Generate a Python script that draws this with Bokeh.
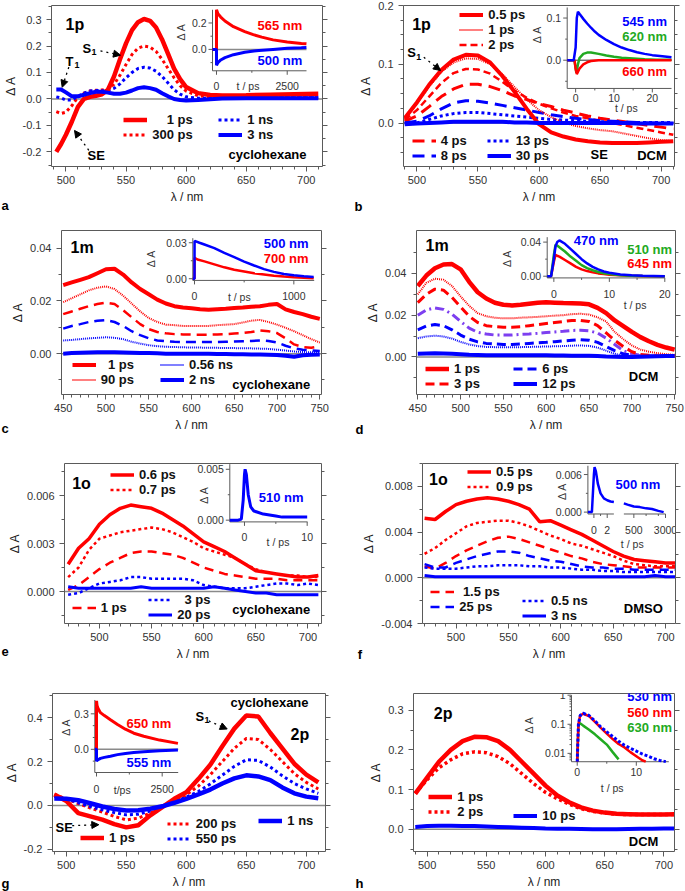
import math
from bokeh.plotting import figure
from bokeh.plotting.glyph_api import GlyphAPI
from bokeh.layouts import column, row
from bokeh.models import (Range1d, LinearAxis, FixedTicker, NumeralTickFormatter, Label, Arrow, Title,
                          NormalHead, Legend, LegendItem, Span, LogScale, LinearScale, CoordinateMapping,
                          CustomLabelingPolicy)
from bokeh.core.properties import value
from bokeh.embed import file_html
from bokeh.resources import INLINE

# ---------------- data: panel a (1p, cyclohexane) ----------------
WL_A = [492, 496, 500, 505, 510, 515, 520, 525, 530, 535, 540, 545, 550, 555, 560, 565, 570, 575,
        580, 585, 590, 595, 600, 610, 620, 630, 650, 670, 690, 710]
A_1PS = [-0.200, -0.170, -0.135, -0.085, -0.030, 0.000, 0.008, 0.012, 0.018, 0.035, 0.085, 0.150,
         0.210, 0.260, 0.290, 0.302, 0.295, 0.270, 0.225, 0.170, 0.115, 0.075, 0.045, 0.022, 0.015,
         0.013, 0.014, 0.016, 0.018, 0.020]
A_300PS = [-0.048, -0.055, -0.050, -0.025, 0.008, 0.022, 0.030, 0.033, 0.034, 0.038, 0.055, 0.090,
           0.130, 0.168, 0.192, 0.200, 0.196, 0.180, 0.150, 0.115, 0.080, 0.050, 0.030, 0.012, 0.008,
           0.007, 0.008, 0.009, 0.010, 0.010]
A_1NS = [0.008, 0.004, -0.004, -0.004, 0.010, 0.022, 0.030, 0.032, 0.031, 0.032, 0.040, 0.057, 0.080,
         0.100, 0.115, 0.120, 0.117, 0.105, 0.085, 0.060, 0.035, 0.018, 0.008, 0.003, 0.003, 0.004,
         0.005, 0.005, 0.005, 0.005]
A_3NS = [0.036, 0.036, 0.025, 0.010, 0.010, 0.016, 0.022, 0.027, 0.027, 0.024, 0.020, 0.020, 0.024,
         0.032, 0.041, 0.044, 0.041, 0.035, 0.022, 0.010, 0.000, -0.004, -0.006, -0.004, -0.001,
         0.002, 0.003, 0.003, 0.003, 0.003]
TA_R = [-141, 0, 1, 50, 150, 300, 600, 1000, 1300, 1600, 2000, 2500, 3000, 3180]
A_565 = [0, 0, 0.30, 0.27, 0.245, 0.215, 0.172, 0.135, 0.112, 0.093, 0.072, 0.056, 0.045, 0.042]
TA_B = [-141, 0, 1, 50, 150, 300, 600, 1000, 1500, 2000, 2500, 3000, 3180]
A_500 = [0, 0, -0.12, -0.10, -0.08, -0.062, -0.04, -0.022, -0.008, 0.0, 0.008, 0.013, 0.015]

# ---------------- panel b (1p, DCM) ----------------
WL_B = [490, 500, 510, 520, 530, 540, 550, 560, 570, 580, 590, 600, 610, 620, 630, 640, 650, 660,
        670, 680, 690, 700, 710]
B_05 = [0.008, 0.035, 0.065, 0.090, 0.108, 0.116, 0.115, 0.103, 0.080, 0.053, 0.024, -0.002, -0.016,
        -0.023, -0.028, -0.031, -0.033, -0.034, -0.034, -0.034, -0.033, -0.032, -0.031]
B_1 = [0.007, 0.033, 0.062, 0.087, 0.103, 0.110, 0.109, 0.100, 0.083, 0.061, 0.040, 0.022, 0.010,
       0.001, -0.005, -0.009, -0.012, -0.014, -0.018, -0.022, -0.026, -0.029, -0.031]
B_2 = [0.005, 0.022, 0.045, 0.068, 0.085, 0.092, 0.091, 0.084, 0.070, 0.055, 0.043, 0.033, 0.025,
       0.018, 0.012, 0.008, 0.004, 0.000, -0.004, -0.008, -0.012, -0.016, -0.020]
B_4 = [0.003, 0.012, 0.028, 0.045, 0.058, 0.066, 0.066, 0.062, 0.055, 0.046, 0.040, 0.033, 0.028,
       0.022, 0.017, 0.012, 0.008, 0.005, 0.002, -0.001, -0.004, -0.007, -0.010]
B_8 = [0.000, 0.003, 0.012, 0.024, 0.034, 0.038, 0.037, 0.034, 0.030, 0.026, 0.022, 0.018, 0.014,
       0.011, 0.008, 0.006, 0.004, 0.003, 0.002, 0.001, 0.000, 0.000, -0.001]
B_13 = [0.000, 0.000, 0.006, 0.012, 0.016, 0.018, 0.018, 0.016, 0.014, 0.012, 0.010, 0.008, 0.006,
        0.005, 0.004, 0.003, 0.002, 0.002, 0.001, 0.001, 0.001, 0.001, 0.001]
B_30 = [-0.002, -0.001, 0.000, 0.001, 0.002, 0.002, 0.002, 0.002, 0.002, 0.001, 0.001, 0.000, 0.000,
        0.000, 0.000, 0.000, 0.000, 0.000, 0.000, -0.001, -0.001, -0.001, -0.001]
TB_1 = [-2.2, -0.5, 0.0, 0.3, 0.6, 1, 2, 3, 4, 5, 6, 8, 10, 12, 14, 16, 18, 20, 22, 25]
B_545 = [0, 0, 0.03, 0.10, 0.115, 0.11, 0.098, 0.087, 0.077, 0.068, 0.06, 0.048, 0.038, 0.03, 0.024,
         0.019, 0.015, 0.012, 0.01, 0.007]
TB_2 = [-2.2, -0.3, 0.0, 0.2, 0.6, 1, 2, 3, 4, 6, 8, 10, 12, 15, 18, 21, 25]
B_620 = [0, 0, -0.02, -0.03, -0.01, 0.005, 0.015, 0.018, 0.018, 0.015, 0.011, 0.008, 0.006, 0.004,
         0.002, 0.001, 0.001]
TB_3 = [-2.2, -0.3, 0.0, 0.3, 1, 2, 3, 4, 6, 10, 15, 20, 25]
B_660 = [0, 0, -0.02, -0.033, -0.02, -0.01, -0.005, -0.002, 0.0, 0.0, 0.0, 0.0, 0.0]

# ---------------- panel c (1m, cyclohexane) ----------------
WL_C = list(range(450, 751, 10))
C_1PS = [0.026, 0.027, 0.028, 0.029, 0.0305, 0.032, 0.0322, 0.030, 0.027, 0.0245, 0.0225, 0.0205,
         0.019, 0.018, 0.0175, 0.0172, 0.0168, 0.0166, 0.0168, 0.017, 0.0173, 0.0175, 0.0178, 0.018,
         0.0185, 0.0188, 0.0168, 0.0158, 0.015, 0.014, 0.0132]
C_90PS = [0.0195, 0.021, 0.0225, 0.024, 0.025, 0.0255, 0.0245, 0.022, 0.019, 0.016, 0.0135, 0.012,
          0.011, 0.0108, 0.0105, 0.0105, 0.0105, 0.0105, 0.0108, 0.011, 0.0112, 0.0118, 0.0125,
          0.0128, 0.012, 0.011, 0.0098, 0.0085, 0.007, 0.0055, 0.0042]
C_RD = [0.015, 0.016, 0.017, 0.018, 0.0188, 0.0193, 0.0188, 0.0165, 0.0138, 0.0112, 0.0093, 0.0082,
        0.0077, 0.0074, 0.0073, 0.0072, 0.0072, 0.0072, 0.0073, 0.0074, 0.0076, 0.0078, 0.0082,
        0.0088, 0.0085, 0.0078, 0.0058, 0.0035, 0.0025, 0.0022, 0.0028]
C_BD = [0.0095, 0.0105, 0.0112, 0.012, 0.0125, 0.0127, 0.012, 0.0105, 0.0085, 0.007, 0.0058, 0.005,
        0.0047, 0.0045, 0.0044, 0.0044, 0.0044, 0.0044, 0.0044, 0.0045, 0.0046, 0.0047, 0.0048,
        0.005, 0.0048, 0.0042, 0.003, 0.002, 0.0015, 0.0012, 0.001]
C_056NS = [0.005, 0.0052, 0.0055, 0.0058, 0.006, 0.0062, 0.006, 0.0055, 0.0045, 0.0038, 0.0032,
           0.0028, 0.0026, 0.0025, 0.0024, 0.0023, 0.0023, 0.0022, 0.0022, 0.0021, 0.0021, 0.002,
           0.002, 0.0019, 0.0018, 0.0015, 0.0012, 0.0008, 0.0006, 0.0005, 0.0005]
C_2NS = [0.0, 0.0002, 0.0003, 0.0004, 0.0005, 0.0005, 0.0005, 0.0004, 0.0003, 0.0002, 0.0002, 0.0001,
         0.0, 0.0, 0.0, 0.0, 0.0, 0.0, -0.0001, -0.0001, -0.0002, -0.0002, -0.0003, -0.0003, -0.0004,
         -0.0005, -0.0008, -0.0012, -0.0006, -0.0004, -0.0003]
TC_B = [-17, 0, 1, 50, 100, 200, 300, 400, 500, 600, 700, 800, 900, 1000, 1100, 1200]
C_500 = [0, 0, 0.0315, 0.030, 0.0285, 0.0255, 0.0215, 0.018, 0.0143, 0.011, 0.008, 0.0057, 0.004,
         0.0029, 0.002, 0.0015]
TC_R = [-17, 0, 1, 30, 100, 200, 300, 400, 500, 600, 700, 800, 900, 1000, 1100, 1200]
C_700 = [0, 0, 0.0175, 0.016, 0.0145, 0.012, 0.0095, 0.0075, 0.006, 0.0045, 0.0035, 0.0025, 0.0018,
         0.0012, 0.0008, 0.0005]

# ---------------- panel d (1m, DCM) ----------------
WL_D = list(range(450, 751, 10))
D_1PS = [0.034, 0.039, 0.0425, 0.0443, 0.0445, 0.042, 0.036, 0.031, 0.028, 0.026, 0.025, 0.0247,
         0.025, 0.0255, 0.026, 0.0262, 0.026, 0.0258, 0.0257, 0.0256, 0.0252, 0.0235, 0.021, 0.0175,
         0.0148, 0.012, 0.0095, 0.0075, 0.0058, 0.0045, 0.0035]
D_RDOT = [0.030, 0.0355, 0.0375, 0.037, 0.034, 0.029, 0.0245, 0.021, 0.0195, 0.0188, 0.0185, 0.0185,
          0.0188, 0.019, 0.0192, 0.0195, 0.0198, 0.020, 0.0205, 0.0207, 0.0203, 0.019, 0.017, 0.012,
          0.0085, 0.0055, 0.0035, 0.0025, 0.0018, 0.0013, 0.001]
D_3PS = [0.026, 0.030, 0.0325, 0.032, 0.0285, 0.024, 0.0195, 0.0165, 0.015, 0.0145, 0.0142, 0.0142,
         0.0145, 0.015, 0.0155, 0.016, 0.0165, 0.017, 0.0175, 0.0175, 0.017, 0.015, 0.0115, 0.008,
         0.005, 0.0025, 0.0012, 0.0008, 0.0005, 0.0005, 0.0005]
D_PDD = [0.020, 0.0225, 0.0235, 0.0228, 0.0205, 0.017, 0.0138, 0.0118, 0.011, 0.0105, 0.0105,
         0.0105, 0.0108, 0.011, 0.0113, 0.0117, 0.012, 0.0123, 0.0127, 0.0128, 0.0125, 0.0115, 0.009,
         0.006, 0.003, 0.0015, 0.0008, 0.0005, 0.0005, 0.0004, 0.0004]
D_6PS = [0.013, 0.0148, 0.0155, 0.015, 0.013, 0.0105, 0.0085, 0.0072, 0.0065, 0.0062, 0.006, 0.006,
         0.0062, 0.0065, 0.0068, 0.007, 0.0073, 0.0077, 0.008, 0.0083, 0.008, 0.007, 0.005, 0.003,
         0.0015, 0.0008, 0.0005, 0.0004, 0.0003, 0.0003, 0.0003]
D_BDOT = [0.009, 0.0098, 0.0102, 0.0098, 0.0088, 0.0072, 0.006, 0.0052, 0.0048, 0.0047, 0.0046,
          0.0046, 0.0047, 0.0048, 0.0049, 0.005, 0.0051, 0.0052, 0.0054, 0.0055, 0.0053, 0.0045,
          0.003, 0.0015, 0.0005, 0.0, 0.0, 0.0, 0.0, 0.0, 0.0]
D_12PS = [0.0015, 0.0017, 0.0018, 0.0017, 0.0015, 0.0013, 0.001, 0.0009, 0.0008, 0.0008, 0.0008,
          0.0008, 0.0008, 0.0008, 0.0008, 0.0008, 0.0007, 0.0007, 0.0006, 0.0006, 0.0006, 0.0004,
          0.0002, 0.0001, 0.0, 0.0, 0.0001, 0.0002, 0.0003, 0.0004, 0.0005]
TD = [-1.2, -0.5, 0.0, 0.3, 0.6, 1.0, 2, 3, 4, 5, 6, 7, 8, 9, 10, 12, 14, 16, 20]
D_470 = [0, 0, 0.02, 0.035, 0.04, 0.042, 0.038, 0.032, 0.026, 0.02, 0.015, 0.011, 0.008, 0.0055,
         0.004, 0.002, 0.001, 0.0005, 0.0]
D_510 = [0, 0, 0.025, 0.037, 0.036, 0.034, 0.029, 0.023, 0.018, 0.013, 0.0095, 0.007, 0.005, 0.0035,
         0.0025, 0.0012, 0.0006, 0.0003, 0.0]
D_645 = [0, 0, 0.017, 0.025, 0.024, 0.023, 0.019, 0.015, 0.011, 0.008, 0.006, 0.0045, 0.0033,
         0.0025, 0.0018, 0.001, 0.0005, 0.0002, 0.0]

# ---------------- panel e (1o, cyclohexane) ----------------
WL_E = list(range(470, 711, 10))
E_06 = [0.0017, 0.0027, 0.0033, 0.0042, 0.0048, 0.0052, 0.0054, 0.0053, 0.0052, 0.0049, 0.0045,
        0.0041, 0.0036, 0.0031, 0.0028, 0.0025, 0.0021, 0.0017, 0.0013, 0.0012, 0.0011, 0.001,
        0.0009, 0.0009, 0.001]
E_07 = [0.0009, 0.0015, 0.0026, 0.0033, 0.0035, 0.0037, 0.0038, 0.0039, 0.004, 0.0039, 0.0037,
        0.0034, 0.0031, 0.0027, 0.0025, 0.0023, 0.0021, 0.0017, 0.0014, 0.0012, 0.0011, 0.001, 0.001,
        0.0009, 0.0009]
E_1 = [0.0001, 0.0004, 0.0009, 0.0014, 0.0018, 0.0021, 0.0024, 0.0025, 0.0025, 0.0024, 0.0023,
       0.0021, 0.0018, 0.0015, 0.0013, 0.0011, 0.001, 0.0009, 0.0008, 0.0008, 0.0008, 0.0007, 0.0007,
       0.0007, 0.0007]
E_3 = [-0.0002, -0.0001, 0.0002, 0.0005, 0.0006, 0.0007, 0.0009, 0.0009, 0.0008, 0.0008, 0.0008,
       0.0008, 0.0007, 0.0004, 0.0003, 0.0002, 0.0002, 0.0002, 0.0003, 0.0004, 0.0005, 0.0005,
       0.0004, 0.0005, 0.0004]
E_20 = [0.0003, 0.0002, 0.0002, 0.0002, 0.0002, 0.0002, 0.0002, 0.0003, 0.0002, 0.0002, 0.0002,
        0.0002, 0.0002, 0.0002, 0.0003, 0.0002, 0.0001, 0.0, -0.0001, -0.0001, -0.0002, -0.0002,
        -0.0002, -0.0002, -0.0002]
TE = [-2.34, -1.0, -0.5, -0.2, 0.0, 0.1, 0.3, 0.6, 1.0, 1.5, 2, 3, 4, 5, 6, 8, 10]
E_510 = [0.0, 0.0, 0.0001, 0.002, 0.0045, 0.005, 0.0045, 0.0025, 0.0013, 0.0009, 0.0008, 0.0006,
         0.0005, 0.0004, 0.0003, 0.0003, 0.0003]

# ---------------- panel f (1o, DMSO) ----------------
WL_F = list(range(470, 711, 10))
F_05 = [0.0052, 0.0051, 0.0058, 0.0064, 0.0067, 0.0069, 0.007, 0.0069, 0.0067, 0.0064, 0.006, 0.0049,
        0.005, 0.0046, 0.0042, 0.0038, 0.0033, 0.0028, 0.0023, 0.0019, 0.0016, 0.0015, 0.0014,
        0.0013, 0.0013]
F_09 = [0.0021, 0.0026, 0.0033, 0.0039, 0.0045, 0.0048, 0.0049, 0.005, 0.005, 0.0048, 0.0045,
        0.0041, 0.0037, 0.0034, 0.003, 0.0028, 0.0025, 0.0022, 0.0019, 0.0015, 0.0012, 0.0011, 0.001,
        0.001, 0.001]
F_15 = [0.001, 0.0008, 0.0013, 0.0019, 0.0024, 0.0028, 0.0032, 0.0035, 0.0036, 0.0034, 0.0031,
        0.0028, 0.0025, 0.0022, 0.0019, 0.0017, 0.0014, 0.0012, 0.0011, 0.001, 0.0009, 0.0009,
        0.0009, 0.0009, 0.0009]
F_25 = [0.0012, 0.0009, 0.0009, 0.0013, 0.0016, 0.0019, 0.0021, 0.0023, 0.0023, 0.0022, 0.0019,
        0.0017, 0.0015, 0.0014, 0.0012, 0.001, 0.0009, 0.0009, 0.0008, 0.0008, 0.0007, 0.0007,
        0.0007, 0.0007, 0.0007]
F_05NS = [0.0009, 0.0008, 0.0008, 0.0008, 0.0009, 0.001, 0.001, 0.0011, 0.0011, 0.0011, 0.001, 0.001,
          0.0009, 0.0009, 0.0008, 0.0007, 0.0007, 0.0006, 0.0006, 0.0005, 0.0005, 0.0005, 0.0005,
          0.0005, 0.0005]
F_3NS = [0.0002, 0.0001, 0.0001, 0.0001, 0.0001, 0.0001, 0.0001, 0.0001, 0.0001, 0.0001, 0.0001,
         0.0001, 0.0001, 0.0001, 0.0001, 0.0001, 0.0001, 0.0001, 0.0001, 0.0001, 0.0001, 0.0001,
         0.0002, 0.0001, 0.0001]
TF_1 = [-0.9, -0.3, 0.0, 0.1, 0.3, 0.6, 1.0, 1.5, 2.0, 2.5, 3.0]
F_500A = [0.0, 0.0, 0.006, 0.0072, 0.0065, 0.0045, 0.003, 0.0022, 0.0019, 0.0017, 0.0016]
TF_2 = [284, 350, 500, 700, 1000, 1400, 2000, 2700]
F_500B = [0.0014, 0.0012, 0.0009, 0.0008, 0.0006, 0.0005, 0.0002, 0.0]

# ---------------- panel g (2p, cyclohexane) ----------------
WL_G = list(range(490, 711, 10))
G_1PS = [0.05, 0.02, -0.035, -0.05, -0.065, -0.085, -0.1, -0.09, -0.045, -0.008, 0.03, 0.06, 0.12,
         0.185, 0.27, 0.35, 0.41, 0.405, 0.33, 0.26, 0.19, 0.14, 0.105]
G_200PS = [0.05, 0.03, 0.008, -0.012, -0.03, -0.05, -0.066, -0.058, -0.035, -0.008, 0.02, 0.048,
           0.088, 0.14, 0.2, 0.26, 0.305, 0.3, 0.255, 0.2, 0.145, 0.105, 0.075]
G_550PS = [0.04, 0.03, 0.012, -0.005, -0.02, -0.033, -0.043, -0.04, -0.026, -0.006, 0.016, 0.038,
           0.063, 0.098, 0.138, 0.178, 0.208, 0.205, 0.175, 0.135, 0.1, 0.075, 0.055]
G_1NS = [0.032, 0.03, 0.024, 0.01, -0.005, -0.016, -0.023, -0.022, -0.015, -0.004, 0.012, 0.03, 0.05,
         0.072, 0.1, 0.123, 0.137, 0.132, 0.115, 0.082, 0.055, 0.04, 0.033]
TG_R = [-65, 0, 1, 20, 60, 150, 300, 530, 800, 1100, 1420, 1800, 2400, 3100]
G_650 = [0, 0, 0.41, 0.37, 0.345, 0.31, 0.285, 0.25, 0.21, 0.17, 0.136, 0.11, 0.078, 0.05]
TG_B = [-65, 0, 1, 40, 150, 300, 530, 800, 1100, 1420, 1800, 2400, 3100]
G_555 = [0, 0, -0.1, -0.09, -0.077, -0.068, -0.058, -0.045, -0.035, -0.027, -0.02, -0.012, -0.005]

# ---------------- panel h (2p, DCM) ----------------
WL_H = list(range(490, 711, 10))
H_1PS = [0.09, 0.13, 0.17, 0.2, 0.222, 0.233, 0.232, 0.222, 0.2, 0.17, 0.14, 0.11, 0.085, 0.068,
         0.055, 0.047, 0.042, 0.039, 0.038, 0.037, 0.037, 0.037, 0.038]
H_2PS = [0.09, 0.125, 0.155, 0.175, 0.19, 0.195, 0.193, 0.183, 0.165, 0.14, 0.115, 0.093, 0.077,
         0.063, 0.052, 0.045, 0.041, 0.038, 0.037, 0.037, 0.037, 0.037, 0.037]
H_10PS = [0.006, 0.008, 0.009, 0.009, 0.008, 0.008, 0.007, 0.006, 0.005, 0.004, 0.003, 0.002, 0.0015,
          0.001, 0.0005, 0.0, 0.0, 0.0, 0.0005, 0.001, 0.0015, 0.002, 0.002]
TH_B = [0, 0.2, 0.5, 1, 2, 3, 4, 5, 6, 7, 8, 9, 10, 11, 12, 13, 14, 15]
H_530 = [0.0052, 0.1, 0.2, 0.24, 0.2, 0.13, 0.08, 0.055, 0.038, 0.026, 0.019, 0.015, 0.012, 0.0095,
         0.008, 0.0065, 0.0057, 0.0052]
TH_R = [0, 0.2, 0.5, 1, 2, 3, 4, 5, 6, 7, 8, 9, 10, 11, 11.6]
H_560 = [0.0052, 0.1, 0.2, 0.23, 0.19, 0.12, 0.075, 0.048, 0.031, 0.021, 0.016, 0.011, 0.008, 0.0058,
         0.0052]
TH_G = [0, 0.2, 0.4, 1, 2, 3, 4, 5, 6, 7]
H_630 = [0.0052, 0.09, 0.11, 0.09, 0.065, 0.045, 0.03, 0.02, 0.011, 0.0062]

# ---------------- styling ----------------
FONT = "Liberation Sans"
RED = "#ff0000"
BLUE = "#0000ff"
GREEN = "#22aa22"
PURPLE = "#7d3ff0"
AX = "#5a5a5a"
ZERO = "#8a8a8a"
TXT = "#222222"
FS = "\u2007"  # figure space (digit width) used to right-align legend labels
XT = [450, 500, 550, 600, 650, 700, 750]
XM = [v for v in range(440, 770, 10) if v % 50]
NO_LABELS = "for (const i of indices) { indices.unset(i) }\nreturn indices"


def style_axis(ax, ticks, minor, fmt=None, show=True, horizontal=True, ticks_on=True):
    ax.ticker = FixedTicker(ticks=ticks, minor_ticks=minor)
    if fmt:
        ax.formatter = NumeralTickFormatter(format=fmt)
    ax.axis_line_color = AX
    ax.major_tick_line_color = AX
    ax.minor_tick_line_color = AX
    ax.major_tick_in = 0
    ax.major_tick_out = 5 if ticks_on else 0
    ax.minor_tick_in = 0
    ax.minor_tick_out = 3 if ticks_on else 0
    if not ticks_on:
        ax.major_tick_line_color = None
        ax.minor_tick_line_color = None
    ax.major_label_text_font = FONT
    ax.major_label_text_font_size = "11px"
    ax.major_label_text_color = "#333333"
    ax.major_label_standoff = 4 if horizontal else 5
    ax.axis_label_text_font = FONT
    ax.axis_label_text_font_size = "12px"
    ax.axis_label_text_font_style = "normal"
    ax.axis_label_text_color = TXT
    ax.axis_label_standoff = 3 if horizontal else 2
    if not show:
        ax.major_label_policy = CustomLabelingPolicy(code=NO_LABELS)
        ax.major_label_text_font_size = "0px"
        ax.major_label_standoff = 0


class Panel:
    def __init__(self, ref, xr, yr, geom, yt, ym, yfmt):
        self.L, self.T, self.R, self.B = ref
        self.xr, self.yr = xr, yr
        w, h, bl, br, bt, bb = geom
        self.fw = w - bl - br
        self.fh = h - bt - bb
        p = figure(width=w, height=h, x_range=Range1d(*xr), y_range=Range1d(*yr),
                   output_backend="svg", toolbar_location=None,
                   min_border_left=bl, min_border_right=br, min_border_top=bt, min_border_bottom=bb,
                   x_axis_label="λ / nm", y_axis_label="Δ A")
        p.outline_line_color = None
        p.grid.visible = False
        p.add_layout(LinearAxis(), "right")
        p.add_layout(LinearAxis(), "above")
        style_axis(p.below[0], XT, XM)
        style_axis(p.above[0], XT, XM, show=False, ticks_on=False)
        style_axis(p.left[0], yt, ym, yfmt, horizontal=False)
        style_axis(p.right[0], yt, ym, yfmt, show=False, horizontal=False)
        p.add_layout(Span(location=0, dimension="width", line_color=ZERO, line_width=1.5,
                          level="underlay"))
        self.p = p

    def X(self, px):
        return self.xr[0] + (px - self.L) / (self.R - self.L) * (self.xr[1] - self.xr[0])

    def Y(self, py):
        return self.yr[1] - (py - self.T) / (self.B - self.T) * (self.yr[1] - self.yr[0])

    def lx(self, px):
        return (px - self.L) / (self.R - self.L) * self.fw

    def ly(self, py):
        return (self.B - py) / (self.B - self.T) * self.fh


def line(pn, x, y, color, width, dash="solid"):
    return pn.p.line(x, y, line_color=color, line_width=width, line_dash=dash)


def text(pn, px, py, s, size="13px", color="black", bold=True, align="left", angle=0.0):
    pn.p.add_layout(Label(x=pn.X(px), y=pn.Y(py), text=s, text_font=FONT, text_font_size=size,
                          text_font_style="bold" if bold else "normal", text_color=color,
                          text_align=align, text_baseline="middle", angle=angle))


def letter(pn, px, py, s):
    # panel letter drawn as a title below the x axis, pulled up next to the axis label
    standoff = int(round(2 * ((py - pn.B) - 46)))
    pn.p.add_layout(Title(text=s, align="left", vertical_align="top", offset=px - pn.L,
                          standoff=standoff, text_font=FONT, text_font_size="13px",
                          text_font_style="bold", text_color="black"), "below")


def subs(pn, px, py, main, sub):
    text(pn, px, py, main, "13px")
    text(pn, px + 9, py + 4, sub, "9px")


def arrow(pn, p0, p1):
    pn.p.add_layout(Arrow(end=NormalHead(size=7, fill_color="black", line_color="black", line_width=1),
                          x_start=pn.X(p0[0]), y_start=pn.Y(p0[1]),
                          x_end=pn.X(p1[0]), y_end=pn.Y(p1[1]),
                          line_color="black", line_width=1.3, line_dash="dotted"))


def legend(pn, items, px, py):
    n = len(items)
    lg = Legend(items=[LegendItem(label=t, renderers=[r]) for t, r in items],
                location=(pn.lx(px), pn.ly(py + (n - 1) * 15) - 7.5),
                label_text_font=FONT, label_text_font_size="13px", label_text_font_style="bold",
                label_text_color="#111111", label_height=13, glyph_height=13, glyph_width=24,
                label_standoff=5, spacing=0, padding=0, margin=0,
                background_fill_alpha=0, border_line_alpha=0)
    pn.p.add_layout(lg)


def inset(pn, xs, ys, pxr, pyr, xscale=None, yscale=None):
    cm = CoordinateMapping(
        x_source=Range1d(*xs), y_source=Range1d(*ys),
        x_scale=xscale if xscale is not None else LinearScale(),
        y_scale=yscale if yscale is not None else LinearScale(),
        x_target=Range1d(pn.X(pxr[0]), pn.X(pxr[1])),
        y_target=Range1d(pn.Y(pyr[0]), pn.Y(pyr[1])))
    return GlyphAPI(pn.p, cm)


def inset_axes(sub, xs, ys, xt, xl, xm, yt=None, yl=None, ym=(), xoff=12, yaxis=True):
    x0, x1 = xs
    y0, y1 = ys
    kw = dict(line_color=AX, line_width=1)
    tk = dict(text_font=value(FONT), text_font_size=value("10.5px"), text_color="#333333")
    sub.segment(x0=[x0], y0=[y0], x1=[x1], y1=[y0], **kw)
    sub.ray(x=xt, y=[y0] * len(xt), length=4, length_units="screen", angle=-math.pi / 2, **kw)
    if xm:
        sub.ray(x=list(xm), y=[y0] * len(xm), length=2, length_units="screen", angle=-math.pi / 2, **kw)
    sub.text(x=xt, y=[y0] * len(xt), text=xl, y_offset=xoff, text_align="center",
             text_baseline="middle", **tk)
    if yaxis:
        sub.segment(x0=[x0], y0=[y0], x1=[x0], y1=[y1], **kw)
        sub.ray(x=[x0] * len(yt), y=yt, length=4, length_units="screen", angle=math.pi, **kw)
        if ym:
            sub.ray(x=[x0] * len(ym), y=list(ym), length=2, length_units="screen", angle=math.pi, **kw)
        sub.text(x=[x0] * len(yt), y=yt, text=yl, x_offset=-6, text_align="right",
                 text_baseline="middle", **tk)


def small(pn, px, py, s, angle=0.0):
    text(pn, px, py, s, "10.5px", "#333333", bold=False, align="center", angle=angle)


# ================= panel a =================
pa = Panel((51, 5, 322, 167), (488, 713.5), (-0.255, 0.353), (340, 225, 51, 18, 5, 58),
           [-0.2, -0.1, 0.0, 0.1, 0.2, 0.3], [-0.25, -0.15, -0.05, 0.05, 0.15, 0.25, 0.35], "0.0")
ra2 = line(pa, WL_A, A_300PS, RED, 3, "3 3")
ra3 = line(pa, WL_A, A_1NS, BLUE, 3, "3 3")
ra1 = line(pa, WL_A, A_1PS, RED, 4.5)
ra4 = line(pa, WL_A, A_3NS, BLUE, 4)
legend(pa, [(FS + FS + "1 ps", ra1), ("300 ps", ra2)], 123.3, 120.7)
legend(pa, [("1 ns", ra3), ("3 ns", ra4)], 218.3, 120.7)
text(pa, 65, 24, "1p", "16px")
text(pa, 228, 155, "cyclohexane")
subs(pa, 82, 48, "S", "1")
arrow(pa, (100, 50.7), (120, 55))
subs(pa, 65, 61, "T", "1")
arrow(pa, (68.3, 67), (61.7, 87.3))
text(pa, 87, 156, "SE")
arrow(pa, (88.3, 150.7), (74, 130.7))
letter(pa, 1, 204, "a")
sa = inset(pa, (-141, 3182), (-0.162, 0.30), (212, 306), (70.7, 9.3))
sa.segment(x0=[-141], y0=[0], x1=[3182], y1=[0], line_color=ZERO, line_width=1.5)
inset_axes(sa, (-141, 3182), (-0.162, 0.30), [0, 2500], ["0", "2500"], [1250],
           [0.0, 0.2], ["0.0", "0.2"], [-0.1, 0.1], xoff=15)
sa.line(TA_R, A_565, line_color=RED, line_width=3)
sa.line(TA_B, A_500, line_color=BLUE, line_width=3)
text(pa, 257, 25, "565 nm", color=RED)
text(pa, 257, 60, "500 nm", color=BLUE)
small(pa, 247.5, 86, "t / ps")
small(pa, 180, 31.7, "Δ A", angle=math.pi / 2)

# ================= panel b =================
pb = Panel((403, 4, 674, 165.7), (489, 711), (-0.074, 0.2), (345, 225, 63, 11, 5, 59),
           [0.0, 0.1, 0.2], [-0.075, -0.05, -0.025, 0.025, 0.05, 0.075, 0.125, 0.15, 0.175], "0.0")
rb4 = line(pb, WL_B, B_4, RED, 3, "12 7")
rb2 = line(pb, WL_B, B_2, RED, 2.5, "7 4")
rb8 = line(pb, WL_B, B_8, BLUE, 3, "12 7")
rb13 = line(pb, WL_B, B_13, BLUE, 3, "3 3")
rb1 = line(pb, WL_B, B_1, RED, 2, "1 1")
rb05 = line(pb, WL_B, B_05, RED, 4)
rb30 = line(pb, WL_B, B_30, BLUE, 4)
legend(pb, [("0.5 ps", rb05), ("1 ps", rb1), ("2 ps", rb2)], 459.3, 13.3)
legend(pb, [("4 ps", rb4), ("8 ps", rb8)], 411.7, 140)
legend(pb, [("13 ps", rb13), ("30 ps", rb30)], 486.7, 140)
text(pb, 411.7, 23.3, "1p", "16px")
subs(pb, 406.7, 51.7, "S", "1")
arrow(pb, (423.3, 56), (440, 69.3))
text(pb, 590, 154, "SE")
text(pb, 636.7, 155, "DCM")
letter(pb, 354, 204, "b")
sb = inset(pb, (-2.2, 25.0), (-0.067, 0.125), (566.7, 671), (87.3, 6))
sb.segment(x0=[-2.2], y0=[0], x1=[25], y1=[0], line_color="#333333", line_width=1)
inset_axes(sb, (-2.2, 25.0), (-0.067, 0.125), [0, 10, 20], ["0", "10", "20"], [5, 15],
           [0.0, 0.1], ["0.0", "0.1"], [-0.05, 0.05], xoff=10)
sb.line(TB_2, B_620, line_color=GREEN, line_width=2.5)
sb.line(TB_3, B_660, line_color=RED, line_width=2.5)
sb.line(TB_1, B_545, line_color=BLUE, line_width=2.5)
text(pb, 621.7, 20, "545 nm", color=BLUE)
text(pb, 621.7, 35, "620 nm", color=GREEN)
text(pb, 621.7, 70, "660 nm", color=RED)
small(pb, 625.8, 107.3, "t / ps")
small(pb, 536.7, 33.3, "Δ A", angle=math.pi / 2)

# ================= panel c =================
pc = Panel((61, 230, 321, 394.3), (448, 752), (-0.0155, 0.0467), (340, 223, 61, 19, 5, 54),
           [0.0, 0.02, 0.04], [-0.01, 0.01, 0.03], "0.00")
rc3 = line(pc, WL_C, C_RD, RED, 2.5, "10 6")
rc4 = line(pc, WL_C, C_BD, BLUE, 2.5, "10 6")
rc2 = line(pc, WL_C, C_90PS, RED, 2, "1 1")
rc5 = line(pc, WL_C, C_056NS, BLUE, 2, "1 1")
rc1 = line(pc, WL_C, C_1PS, RED, 4)
rc6 = line(pc, WL_C, C_2NS, BLUE, 4)
legend(pc, [(FS + "1 ps", rc1), ("90 ps", rc2)], 71.7, 365)
legend(pc, [("0.56 ns", rc5), ("2 ns", rc6)], 160, 365)
text(pc, 70, 246.7, "1m", "16px")
text(pc, 231.7, 384.3, "cyclohexane")
letter(pc, 1, 427, "c")
sc = inset(pc, (-17, 1205), (-0.0014, 0.0338), (192.3, 313.7), (280, 237.7))
inset_axes(sc, (-17, 1205), (-0.0014, 0.0338), [0, 1000], ["0", "1000"], [500],
           [0.0, 0.03], ["0.00", "0.03"], [0.015], xoff=16)
sc.line(TC_R, C_700, line_color=RED, line_width=2.5)
sc.line(TC_B, C_500, line_color=BLUE, line_width=2.5)
text(pc, 263.3, 243.3, "500 nm", color=BLUE)
text(pc, 263.3, 258.3, "700 nm", color=RED)
small(pc, 241.7, 296.7, "t  /  ps")
small(pc, 150, 258.3, "Δ A", angle=math.pi / 2)

# ================= panel d =================
pd = Panel((416, 230, 675, 395), (448.5, 751), (-0.018, 0.0606), (345, 223, 76, 10, 5, 53),
           [0.0, 0.02, 0.04], [-0.01, 0.01, 0.03, 0.05], "0.00")
rd7 = line(pd, WL_D, D_BDOT, BLUE, 2, "1 1")
rd5 = line(pd, WL_D, D_6PS, BLUE, 3, "9 5")
rd4 = line(pd, WL_D, D_PDD, PURPLE, 3, "9 4 2 4")
rd3 = line(pd, WL_D, D_3PS, RED, 3, "9 5")
rd2 = line(pd, WL_D, D_RDOT, RED, 2, "1 1")
rd1 = line(pd, WL_D, D_1PS, RED, 4.5)
rd6 = line(pd, WL_D, D_12PS, BLUE, 4)
legend(pd, [("1 ps", rd1), ("3 ps", rd3)], 425, 369)
legend(pd, [("6 ps", rd5), ("12 ps", rd6)], 513.3, 369)
text(pd, 425, 245, "1m", "16px")
text(pd, 628.3, 376.7, "DCM")
letter(pd, 355, 428, "d")
sd = inset(pd, (-1.2, 20.0), (-0.002, 0.0458), (546.7, 664.3), (277.7, 236.7))
inset_axes(sd, (-1.2, 20.0), (-0.002, 0.0458), [0, 10, 20], ["0", "10", "20"], [5, 15],
           [0.0, 0.04], ["0.00", "0.04"], [0.02], xoff=16)
sd.line(TD, D_645, line_color=RED, line_width=2.5)
sd.line(TD, D_510, line_color=GREEN, line_width=2.5)
sd.line(TD, D_470, line_color=BLUE, line_width=2.5)
text(pd, 573.3, 240, "470 nm", color=BLUE)
text(pd, 626.7, 249, "510 nm", color=GREEN)
text(pd, 626.7, 263.3, "645 nm", color=RED)
small(pd, 637.5, 305, "t  /  ps")
small(pd, 506.7, 258.3, "Δ A", angle=math.pi / 2)

# ================= panel e =================
pe = Panel((64, 463.3, 321, 623.3), (466.5, 713), (-0.002, 0.008), (340, 220, 64, 19, 15, 45),
           [0.0, 0.003, 0.006], [-0.0015, 0.0015, 0.0045, 0.0075], "0.000")
re3 = line(pe, WL_E, E_1, RED, 2.5, "9 6")
re4 = line(pe, WL_E, E_3, BLUE, 2.5, "3 3")
re2 = line(pe, WL_E, E_07, RED, 2.5, "3 3")
re1 = line(pe, WL_E, E_06, RED, 3.5)
re5 = line(pe, WL_E, E_20, BLUE, 3)
legend(pe, [("0.6 ps", re1), ("0.7 ps", re2)], 110, 475)
legend(pe, [("1 ps", re3)], 71.7, 608)
legend(pe, [(FS + "3 ps", re4), ("20 ps", re5)], 148.3, 600)
text(pe, 71.7, 483.3, "1o", "16px")
text(pe, 231.7, 609, "cyclohexane")
letter(pe, 1, 653, "e")
se = inset(pe, (-2.34, 10.05), (-0.00017, 0.0055), (229.3, 307), (521.7, 464))
inset_axes(se, (-2.34, 10.05), (-0.00017, 0.0055), [0, 10], ["0", "10"], [5],
           [0.0, 0.005], ["0.000", "0.005"], [0.0025], xoff=15)
se.line(TE, E_510, line_color=BLUE, line_width=3)
text(pe, 258.3, 497.3, "510 nm", color=BLUE)
small(pe, 277.5, 541.7, "t / ps")
small(pe, 203.3, 495, "Δ A", angle=math.pi / 2)

# ================= panel f =================
pf = Panel((421.7, 461.7, 675, 623.3), (468, 709.5), (-0.004, 0.01), (345, 220, 82, 10, 14, 45),
           [-0.004, 0.0, 0.004, 0.008], [-0.002, 0.002, 0.006, 0.01], "0.000")
rf3 = line(pf, WL_F, F_15, RED, 2.5, "9 6")
rf4 = line(pf, WL_F, F_25, BLUE, 2.5, "9 6")
rf5 = line(pf, WL_F, F_05NS, BLUE, 2.5, "3 3")
rf2 = line(pf, WL_F, F_09, RED, 2.5, "3 3")
rf1 = line(pf, WL_F, F_05, RED, 3.5)
rf6 = line(pf, WL_F, F_3NS, BLUE, 3)
legend(pf, [("0.5 ps", rf1), ("0.9 ps", rf2)], 466.7, 471.7)
legend(pf, [(" 1.5 ps", rf3), ("25 ps", rf4)], 430, 592)
legend(pf, [("0.5 ns", rf5), ("3 ns", rf6)], 521.7, 600.5)
text(pf, 428.3, 478.3, "1o", "16px")
text(pf, 623.3, 608, "DMSO")
letter(pf, 357, 653, "f")
sf1 = inset(pf, (-0.9, 3.0), (-0.0003, 0.0074), (587.3, 613.3), (512.7, 464))
inset_axes(sf1, (-0.9, 3.0), (-0.0003, 0.0074), [0, 2], ["0", "2"], [1],
           [0.0, 0.006], ["0.000", "0.006"], [0.003], xoff=16)
sf1.line(TF_1, F_500A, line_color=BLUE, line_width=2.5)
sf2 = inset(pf, (284, 3000), (-0.0003, 0.0074), (623.3, 665), (512.7, 464), xscale=LogScale())
inset_axes(sf2, (284, 3000), (-0.0003, 0.0074), [500, 3000], ["500", "3000"], [1000, 2000],
           xoff=16, yaxis=False)
sf2.line(TF_2, F_500B, line_color=BLUE, line_width=2.5)
text(pf, 615, 483.3, "500 nm", color=BLUE)
small(pf, 631.7, 543.3, "t / ps")
small(pf, 561.7, 490, "Δ A", angle=math.pi / 2)

# ================= panel g =================
pg = Panel((52, 688.3, 325, 851.7), (488.5, 716), (-0.21, 0.51), (340, 223, 52, 15, 20, 39),
           [-0.2, 0.0, 0.2, 0.4], [-0.1, 0.1, 0.3, 0.5], "0.0")
rg2 = line(pg, WL_G, G_200PS, RED, 3, "3 3")
rg3 = line(pg, WL_G, G_550PS, BLUE, 3, "3 3")
rg1 = line(pg, WL_G, G_1PS, RED, 4.5)
rg4 = line(pg, WL_G, G_1NS, BLUE, 4.5)
legend(pg, [("1 ps", rg1)], 80, 838.3)
legend(pg, [("200 ps", rg2), ("550 ps", rg3)], 166.7, 824)
legend(pg, [("1 ns", rg4)], 258.3, 821.7)
text(pg, 230, 697.3, "cyclohexane")
text(pg, 290, 730.7, "2p", "16px")
subs(pg, 195, 711.7, "S", "1")
arrow(pg, (208.3, 716.7), (226.7, 725))
text(pg, 55, 826.7, "SE")
arrow(pg, (71.7, 825), (98.3, 824))
letter(pg, 1, 882, "g")
sg = inset(pg, (-65, 3110), (-0.196, 0.417), (94.3, 177.7), (770, 695))
sg.segment(x0=[-65], y0=[0], x1=[3110], y1=[0], line_color=ZERO, line_width=1.5)
inset_axes(sg, (-65, 3110), (-0.196, 0.417), [0, 2500], ["0", "2500"], [1250],
           [0.0, 0.3], ["0.0", "0.3"], [-0.1, 0.1, 0.2], xoff=16)
sg.line(TG_R, G_650, line_color=RED, line_width=3)
sg.line(TG_B, G_555, line_color=BLUE, line_width=3)
text(pg, 126, 719.3, "650 nm", color=RED)
text(pg, 126, 759.3, "555 nm", color=BLUE)
small(pg, 121.7, 788.3, "t/ps")
small(pg, 65, 723.3, "Δ A", angle=math.pi / 2)

# ================= panel h =================
ph = Panel((413, 693.3, 674, 851.7), (488.5, 709), (-0.056, 0.342), (345, 223, 73, 11, 25, 39),
           [0.0, 0.1, 0.2, 0.3], [-0.05, 0.05, 0.15, 0.25], "0.0")
rh2 = line(ph, WL_H, H_2PS, RED, 3.5, "3 3")
rh1 = line(ph, WL_H, H_1PS, RED, 4.5)
rh3 = line(ph, WL_H, H_10PS, BLUE, 4)
legend(ph, [("1 ps", rh1), ("2 ps", rh2)], 428.3, 797.7)
legend(ph, [("10 ps", rh3)], 513.3, 816.7)
text(ph, 433.3, 713.3, "2p", "16px")
text(ph, 628.3, 841.7, "DCM")
letter(ph, 355, 882, "h")
sh = inset(ph, (-0.97, 15.5), (0.00515, 1.0), (571, 668.3), (761.7, 695), yscale=LogScale())
inset_axes(sh, (-0.97, 15.5), (0.00515, 1.0), [0, 10], ["0", "10"], [5],
           [0.01, 0.1, 1.0], ["0.01", "0.1", "1"],
           [0.006, 0.007, 0.008, 0.009, 0.02, 0.03, 0.04, 0.05, 0.06, 0.07, 0.08, 0.09,
            0.2, 0.3, 0.4, 0.5, 0.6, 0.7, 0.8, 0.9], xoff=10)
sh.line(TH_G, H_630, line_color=GREEN, line_width=2.5)
sh.line(TH_R, H_560, line_color=RED, line_width=2.5)
sh.line(TH_B, H_530, line_color=BLUE, line_width=3, line_dash="3 2")
text(ph, 626.7, 696.7, "530 nm", color=BLUE)
text(ph, 626.7, 712.7, "560 nm", color=RED)
text(ph, 626.7, 727.3, "630 nm", color=GREEN)
small(ph, 611.7, 788.3, "t / ps")
small(ph, 528.3, 725, "Δ A", angle=math.pi / 2)

layout = column(row(pa.p, pb.p), row(pc.p, pd.p), row(pe.p, pf.p), row(pg.p, ph.p))
open("out.html", "w").write(file_html(layout, INLINE))
